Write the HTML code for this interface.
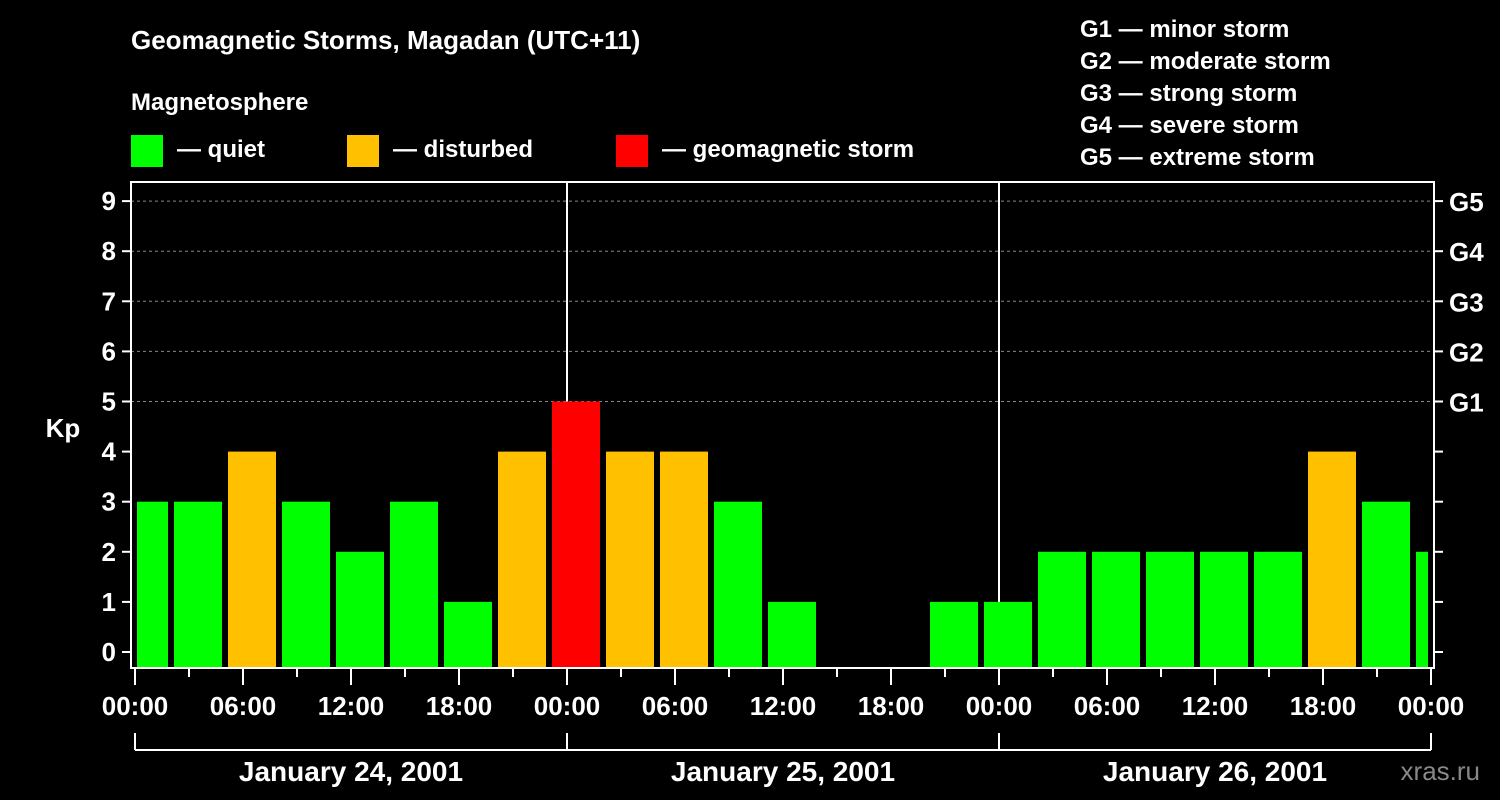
<!DOCTYPE html>
<html><head><meta charset="utf-8"><style>
html,body{margin:0;padding:0;background:#000;}
svg{display:block;font-family:"Liberation Sans",Arial,sans-serif;font-weight:bold;}
</style></head><body>
<svg id="chart" width="1500" height="800" viewBox="0 0 1500 800">
<rect width="1500" height="800" fill="#000"/>
<text x="131" y="49" fill="#fff" font-size="26">Geomagnetic Storms, Magadan (UTC+11)</text>
<text x="131" y="110" fill="#fff" font-size="24">Magnetosphere</text>
<g><rect x="131" y="135" width="32" height="32" fill="#00ff00"/><text x="177" y="157" fill="#fff" font-size="24">— quiet</text></g>
<g><rect x="347" y="135" width="32" height="32" fill="#ffc000"/><text x="393" y="157" fill="#fff" font-size="24">— disturbed</text></g>
<g><rect x="616" y="135" width="32" height="32" fill="#ff0000"/><text x="662" y="157" fill="#fff" font-size="24">— geomagnetic storm</text></g>
<g fill="#fff" font-size="24">
<text x="1080" y="37">G1 — minor storm</text>
<text x="1080" y="69">G2 — moderate storm</text>
<text x="1080" y="101">G3 — strong storm</text>
<text x="1080" y="133">G4 — severe storm</text>
<text x="1080" y="165">G5 — extreme storm</text>
</g>
<text x="63" y="437" fill="#fff" font-size="26" text-anchor="middle">Kp</text>
<text x="1480" y="780" fill="#888" font-size="26" text-anchor="end" font-weight="normal">xras.ru</text>
<g id="grid"></g><g id="bars"></g><g id="axes"></g>
</svg>
<script>
const kpValues=[3,3,4,3,2,3,1,4,5,4,4,3,1,0,0,1,1,2,2,2,2,2,4,3,2];
const dayLabels=["January 24, 2001","January 25, 2001","January 26, 2001"];
const yTicks=[0,1,2,3,4,5,6,7,8,9];
const gLabels=["G1","G2","G3","G4","G5"];
const xTickLabels=["00:00","06:00","12:00","18:00"];
const NS="http://www.w3.org/2000/svg";
const L=131,R=1434,T=182,B=668,X0=135,DAY=432;
const y=v=>652-v*50.1;
const x=h=>X0+h*DAY/24; // hours since start
function mk(tag,attrs,parent,txt){const e=document.createElementNS(NS,tag);for(const k in attrs)e.setAttribute(k,attrs[k]);if(txt!==undefined)e.textContent=txt;parent.appendChild(e);return e;}
const grid=document.getElementById('grid'),bars=document.getElementById('bars'),axes=document.getElementById('axes');
yTicks.forEach(v=>{
 if(v>=5){const g=mk('line',{x1:L,x2:R,y1:y(v),y2:y(v),stroke:'#888','stroke-dasharray':'3,3','stroke-width':1},grid);
 
 }
 const t=mk('text',{x:116,y:y(v)+9,fill:'#fff','font-size':26,'text-anchor':'end'},axes,String(v));
 
 
 mk('line',{x1:122,x2:L,y1:y(v),y2:y(v),stroke:'#fff','stroke-width':2},axes);
 mk('line',{x1:R,x2:R+9,y1:y(v),y2:y(v),stroke:'#fff','stroke-width':2},axes);
});
gLabels.forEach((g,i)=>{const t=mk('text',{x:1449,y:y(5+i)+10,fill:'#fff','font-size':26},axes,g);
 
 });
kpValues.forEach((v,i)=>{
 if(v<=0)return;
 let a=x(-1+3*i)+3,b=x(2+3*i)-3;
 a=Math.max(a,X0+2);b=Math.min(b,R-6);
 const col=v>=5?'#ff0000':(v>=4?'#ffc000':'#00ff00');
 const r=mk('rect',{x:a,y:y(v),width:b-a,height:B-1-y(v),fill:col},bars);
 
 
});
[1,2].forEach(d=>mk('line',{x1:x(24*d),x2:x(24*d),y1:T,y2:B,stroke:'#fff','stroke-width':2},grid));
const fr=mk('rect',{x:L,y:T,width:R-L,height:B-T,fill:'none',stroke:'#fff','stroke-width':2},axes);


for(let h=0;h<=72;h+=3){
 const maj=h%6===0;
 mk('line',{x1:x(h),x2:x(h),y1:B,y2:B+(maj?17:9),stroke:'#fff','stroke-width':2},axes);
 if(maj){const t=mk('text',{x:x(h),y:715,fill:'#fff','font-size':26,'text-anchor':'middle'},axes,xTickLabels[(h%24)/6]);
 
 }
}
mk('line',{x1:x(0),x2:x(72),y1:750,y2:750,stroke:'#fff','stroke-width':2},axes);
for(let d=0;d<=3;d++)mk('line',{x1:x(24*d),x2:x(24*d),y1:733,y2:750,stroke:'#fff','stroke-width':2},axes);
dayLabels.forEach((s,d)=>{const t=mk('text',{x:x(24*d+12),y:781,fill:'#fff','font-size':28,'text-anchor':'middle'},axes,s);
 
 });
</script>
</body></html>
